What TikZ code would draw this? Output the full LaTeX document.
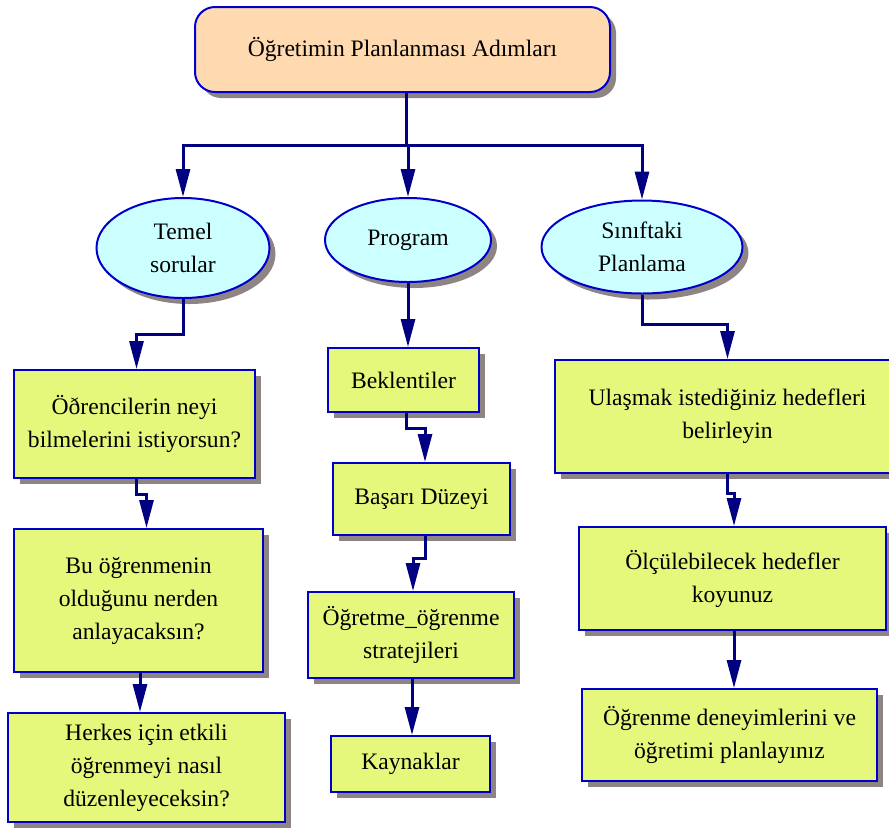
\documentclass[tikz,border=0pt]{standalone}
\usepackage{fontspec}
\setmainfont{Liberation Serif}
\usetikzlibrary{positioning, arrows.meta, shadows, calc, shapes.geometric}
\definecolor{ink}{HTML}{000000}
\definecolor{edge}{HTML}{0000CC}
\definecolor{wire}{HTML}{000080}
\definecolor{leaf}{HTML}{E6F87C}
\definecolor{oval}{HTML}{CCFFFF}
\definecolor{peach}{HTML}{FFDAB0}
\definecolor{shade}{HTML}{8E8484}
\tikzset{
  every node/.style = {font=\fontsize{11.8}{16.5}\selectfont, text=ink},
  opbase/.style  = {draw=edge, line width=1pt, align=center, inner sep=2pt,
                    drop shadow={shadow xshift=3pt, shadow yshift=-3pt, fill=shade, opacity=1}},
  ophead/.style  = {opbase, fill=peach, rounded corners=10pt},
  opoval/.style  = {opbase, ellipse, fill=oval, inner sep=0pt},
  opbox/.style   = {opbase, rectangle, fill=leaf},
  opgo/.style    = {-{Triangle[length=14pt,width=7pt]}, draw=wire, line width=1.5pt},
  oplink/.style  = {draw=wire, line width=1.5pt},
}

\begin{document}
\begin{tikzpicture}[x=0.5pt, y=-0.5pt]
\useasboundingbox (0,0) rectangle (889,827);

\node[ophead, minimum width=207.5pt, minimum height=42.5pt] (top) at (402.5,49.5)
  {Öğretimin Planlanması Adımları};

\node[opoval, minimum width=86.5pt, minimum height=50pt]   (temel) at (183,248) {Temel\\sorular};
\node[opoval, minimum width=83pt, minimum height=42pt]     (prog)  at (408,240) {Program};
\node[opoval, minimum width=100.5pt, minimum height=46.5pt] (sinif) at (642,247) {Sınıftaki\\Planlama};

% sol sutun
\node[opbox, minimum width=120.5pt, minimum height=54pt]   (soru1) at (134.5,424)
  {Öðrencilerin neyi\\bilmelerini istiyorsun?};
\node[opbox, minimum width=124.5pt, minimum height=71.5pt] (soru2) at (138.5,600.5)
  {Bu öğrenmenin\\olduğunu nerden\\anlayacaksın?};
\node[opbox, minimum width=138.5pt, minimum height=54.5pt] (soru3) at (146.5,767.5)
  {Herkes için etkili\\öğrenmeyi nasıl\\düzenleyeceksin?};

% orta sutun
\node[opbox, minimum width=75.5pt, minimum height=32pt]  (bek)  at (403.5,380) {Beklentiler};
\node[opbox, minimum width=88.5pt, minimum height=36pt]  (bas)  at (421.5,499) {Başarı Düzeyi};
\node[opbox, minimum width=103pt, minimum height=43pt]   (str)  at (411,635)   {Öğretme\_öğrenme\\stratejileri};
\node[opbox, minimum width=79.5pt, minimum height=28pt]  (kay)  at (410.5,764) {Kaynaklar};

% sag sutun
\node[opbox, minimum width=172.5pt, minimum height=56.5pt] (hed1) at (727.5,416.5)
  {Ulaşmak istediğiniz hedefleri\\belirleyin};
\node[opbox, minimum width=153.5pt, minimum height=51.5pt] (hed2) at (732.5,578.5)
  {Ölçülebilecek hedefler\\koyunuz};
\node[opbox, minimum width=147.5pt, minimum height=46pt]   (hed3) at (729.5,735)
  {Öğrenme deneyimlerini ve\\öğretimi planlayınız};

\draw[oplink] ($(top.south)+(4,0)$) -- ++(0,52) coordinate (bus);
\draw[opgo] (bus) -| (temel.north);
\draw[opgo] (bus) -- (bus -| prog.north) -- (prog.north);
\draw[opgo] (bus) -| (sinif.north);

\draw[opgo] (temel.south) -- ++(0,35) -| ($(soru1.north)+(2,0)$);
\draw[opgo] ($(soru1.south)+(2,0)$) -- ++(0,15) -| ($(soru2.north)+(8,0)$);
\draw[opgo] ($(soru2.south)+(1.5,0)$) -- ($(soru3.north)+(-6.5,0)$);

\draw[opgo] (prog.south) -- ($(bek.north)+(4.5,0)$);
\draw[opgo] ($(bek.south)+(2.5,0)$) -- ++(0,15) -| ($(bas.north)+(3.5,0)$);
\draw[opgo] ($(bas.south)+(3.5,0)$) -- ++(0,22) -| ($(str.north)+(2,0)$);
\draw[opgo] ($(str.south)+(1,0)$) -- ($(kay.north)+(1.5,0)$);

\draw[opgo] (sinif.south) -- ++(0,30) -| (hed1.north);
\draw[opgo] (hed1.south) -- ++(0,19) -| ($(hed2.north)+(1.5,0)$);
\draw[opgo] ($(hed2.south)+(1.5,0)$) -- ($(hed3.north)+(4.5,0)$);
\end{tikzpicture}
\end{document}
